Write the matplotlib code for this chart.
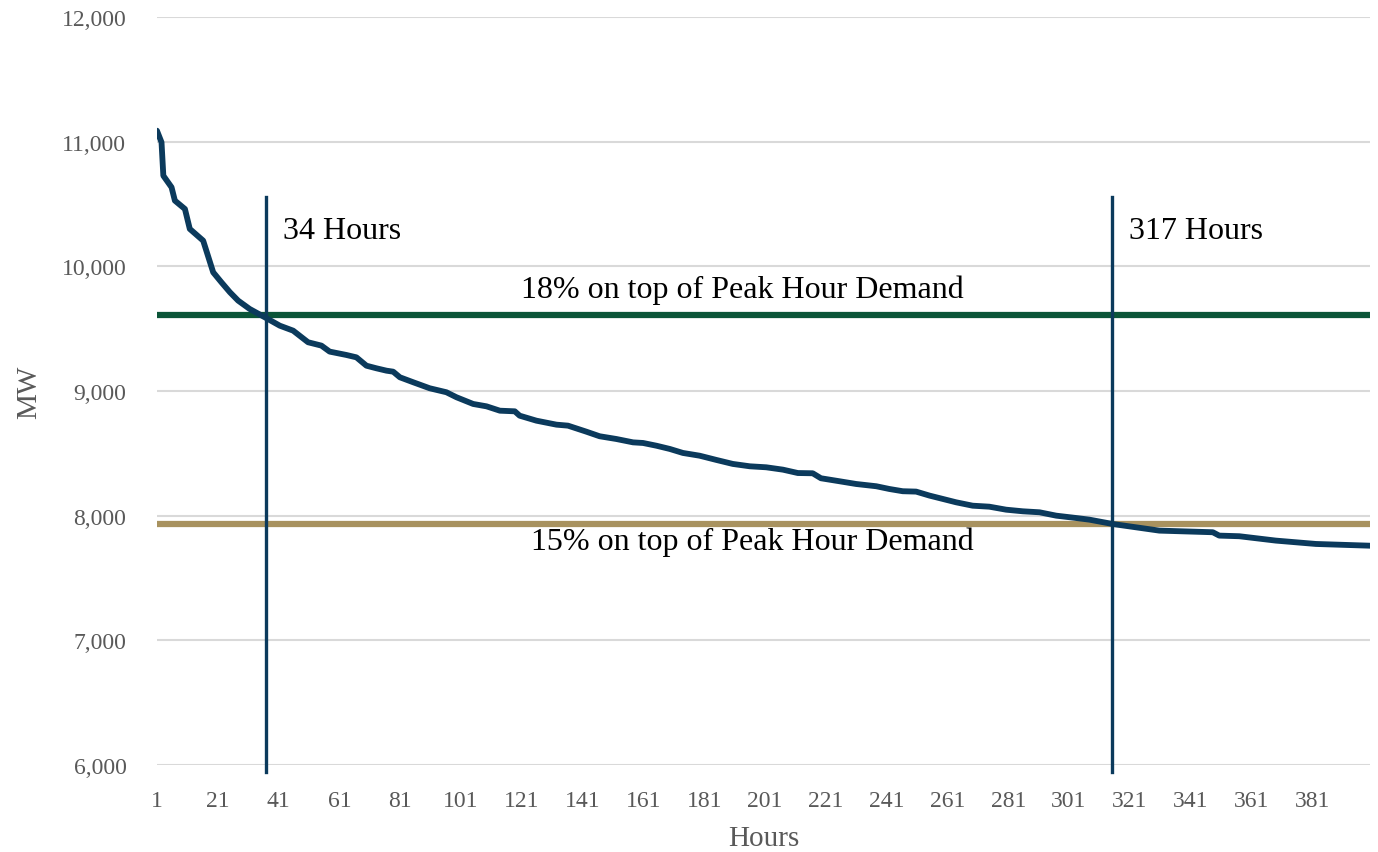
import matplotlib
matplotlib.use("Agg")
import matplotlib.pyplot as plt

# load duration curve (hour, MW)
hours = [1, 2.5, 3.1, 5.8, 6.9, 10.2, 11.8, 16.2, 19.5, 22.2, 25, 27.7, 31.5, 36.5,
         41.4, 45.8, 50.7, 55.1, 57.8, 63.3, 66.6, 69.9, 73.2, 76.5, 78.7, 80.9,
         85.3, 90.7, 96.2, 99.5, 105, 109.4, 113.8, 118.7, 120.3, 125.8, 132.4,
         136.2, 142.2, 146.6, 152.1, 157.6, 160.9, 165.3, 169.7, 174, 179.5, 185,
         190.4, 196, 201.4, 206.9, 211.8, 216.7, 219.4, 225.5, 231, 237.6, 241.9,
         246.3, 250.7, 255.1, 263.9, 269.3, 274.8, 280.3, 285.8, 291.3, 296.8,
         303.4, 307.7, 315.4, 330.7, 348.3, 350.4, 357, 369, 382.2, 400]
demand = [11088, 10995, 10727, 10634, 10527, 10460, 10300, 10206, 9952, 9872, 9792,
          9725, 9658, 9591, 9524, 9484, 9391, 9364, 9316, 9289, 9270, 9203, 9182,
          9163, 9155, 9110, 9070, 9022, 8990, 8950, 8896, 8877, 8842, 8837, 8802,
          8762, 8730, 8722, 8674, 8637, 8615, 8588, 8583, 8561, 8535, 8503, 8481,
          8447, 8415, 8396, 8388, 8369, 8342, 8340, 8300, 8276, 8254, 8236, 8214,
          8196, 8193, 8161, 8107, 8080, 8072, 8048, 8035, 8027, 8000, 7981, 7968,
          7933, 7880, 7867, 7840, 7835, 7800, 7773, 7759]

level_18 = 9610
level_15 = 7933
cross_hours = [36.8, 315.3]
cross_labels = ["34 Hours", "317 Hours"]
xticks = list(range(1, 400, 20))

NAVY = "#0b3a5c"
GREEN = "#0b5538"
TAN = "#a8925f"
GRAY = "#595959"
plt.rcParams["font.family"] = ["Liberation Serif", "DejaVu Serif"]

fig = plt.figure(figsize=(13.78, 8.53), dpi=100)
ax = fig.add_axes([0.1139, 0.102, 0.8803, 0.8769])

ax.set_xlim(1, 400)
ax.set_ylim(6000, 12000)
ax.set_yticks(range(6000, 12001, 1000))
ax.set_yticklabels([f"{v:,}" for v in range(6000, 12001, 1000)])
ax.set_xticks(xticks)
ax.tick_params(length=0, labelsize=17, colors=GRAY)
ax.tick_params(axis="x", pad=18)
ax.tick_params(axis="y", pad=22)
ax.grid(axis="y", color="#d9d9d9", lw=1.5)
ax.set_axisbelow(True)
for s in ax.spines.values():
    s.set_visible(False)

ax.axhline(level_18, color=GREEN, lw=4.5, zorder=2)
ax.axhline(level_15, color=TAN, lw=4.5, zorder=2)
ax.plot(hours, demand, color=NAVY, lw=4.2, solid_capstyle="round",
        solid_joinstyle="round", zorder=3)
for h, lab in zip(cross_hours, cross_labels):
    ax.plot([h, h], [5940, 10556], color=NAVY, lw=2.4, clip_on=False, zorder=4)
    ax.text(h + 5.5, 10290, lab, fontsize=23, color="black", va="center", ha="left")

ax.text(193.4, 9815, "18% on top of Peak Hour Demand", fontsize=23, ha="center", va="center")
ax.text(197, 7795, "15% on top of Peak Hour Demand", fontsize=23, ha="center", va="center")

ax.set_xlabel("Hours", fontsize=21, color=GRAY, labelpad=10)
ax.set_ylabel("MW", fontsize=21, color=GRAY, labelpad=14)

fig.savefig("out.png", dpi=100)
